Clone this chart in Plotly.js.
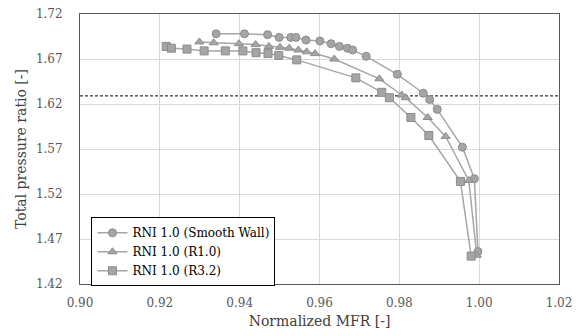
<!DOCTYPE html>
<html>
<head>
<meta charset="utf-8">
<script src="https://cdn.plot.ly/plotly-3.0.1.min.js"></script>
<style>html,body{margin:0;padding:0;background:#fff;}#chart{width:582px;height:336px;}</style>
</head>
<body>
<div id="chart"></div>
<script>
var seriesNames = ["RNI 1.0 (Smooth Wall)", "RNI 1.0 (R1.0)", "RNI 1.0 (R3.2)"];

var smoothX = [0.9341,0.9412,0.9470,0.9499,0.9528,0.9541,0.9566,0.9601,0.9629,0.9650,0.9670,0.9683,0.9717,0.9795,0.9860,0.9876,0.9895,0.9958,0.9988,0.9997];
var smoothY = [1.698,1.698,1.697,1.694,1.694,1.694,1.691,1.690,1.687,1.684,1.682,1.680,1.673,1.653,1.632,1.625,1.614,1.572,1.537,1.456];

var r10X = [0.9299,0.9335,0.9398,0.9440,0.9473,0.9501,0.9524,0.9547,0.9568,0.9589,0.9637,0.9750,0.9806,0.9816,0.9871,0.9916,0.9974,0.9994];
var r10Y = [1.689,1.688,1.687,1.686,1.684,1.683,1.682,1.680,1.678,1.676,1.670,1.648,1.630,1.627,1.605,1.584,1.535,1.452];

var r32X = [0.9216,0.9229,0.9268,0.9311,0.9364,0.9408,0.9441,0.9471,0.9498,0.9543,0.9691,0.9756,0.9775,0.9829,0.9874,0.9953,0.9980];
var r32Y = [1.684,1.682,1.681,1.679,1.679,1.679,1.677,1.676,1.674,1.669,1.649,1.633,1.627,1.605,1.585,1.534,1.451];

var refLineY = 1.629;
var xRange = [0.90, 1.02];
var yRange = [1.42, 1.72];

var font = "DejaVu Serif";
var lineCol = "#a6a6a6";
var fillCol = "#a5a5a5";
var edgeCol = "#8c8c8c";

function series(x, y, name, symbol, size) {
  return {
    type: "scatter", mode: "lines+markers", x: x, y: y, name: name,
    line: {color: lineCol, width: 1.5},
    marker: {symbol: symbol, size: size, color: fillCol, line: {color: edgeCol, width: 1}}
  };
}

var traces = [
  {type: "scatter", mode: "lines", x: xRange, y: [refLineY, refLineY], showlegend: false,
   line: {color: "#000000", width: 1, dash: "3px,2px"}, hoverinfo: "skip"},
  series(smoothX, smoothY, seriesNames[0], "circle", 8),
  series(r10X, r10Y, seriesNames[1], "triangle-up", 8),
  series(r32X, r32Y, seriesNames[2], "square", 8)
];

var layout = {
  width: 582, height: 336,
  margin: {l: 79.5, r: 22.5, t: 14, b: 52},
  paper_bgcolor: "#ffffff", plot_bgcolor: "#ffffff",
  font: {family: font, size: 12, color: "#595959"},
  showlegend: true,
  legend: {
    x: 0.024, y: 0.247, xanchor: "left", yanchor: "top",
    bgcolor: "#ffffff", bordercolor: "#000000", borderwidth: 1,
    font: {family: font, size: 12, color: "#000000"},
    itemwidth: 30, tracegroupgap: 0
  },
  xaxis: {
    range: xRange, dtick: 0.02, tick0: 0.90, tickformat: ".2f",
    showgrid: true, gridcolor: "#d9d9d9", gridwidth: 1, zeroline: false,
    showline: true, mirror: true, linecolor: "#595959", linewidth: 1,
    ticks: "", ticklabelstandoff: 8,
    tickfont: {family: font, size: 12, color: "#595959"},
    title: {text: "Normalized MFR [-]", font: {family: font, size: 14, color: "#404040"}, standoff: 6}
  },
  yaxis: {
    range: yRange, dtick: 0.05, tick0: 1.42, tickformat: ".2f",
    showgrid: true, gridcolor: "#d9d9d9", gridwidth: 1, zeroline: false,
    showline: true, mirror: true, linecolor: "#595959", linewidth: 1,
    ticks: "", ticklabelstandoff: 14,
    tickfont: {family: font, size: 12, color: "#595959"},
    title: {text: "Total pressure ratio [-]", font: {family: font, size: 14, color: "#404040"}, standoff: 5}
  }
};

Plotly.newPlot("chart", traces, layout, {displayModeBar: false, staticPlot: true});
</script>
</body>
</html>
